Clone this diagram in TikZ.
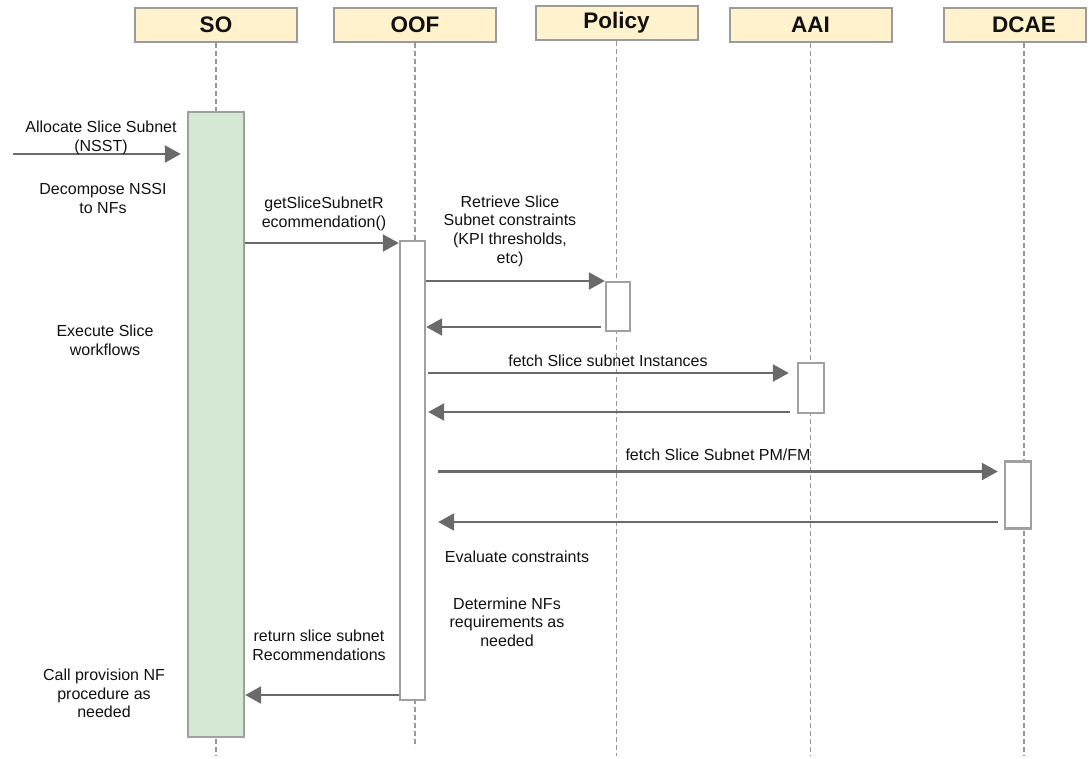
\documentclass[tikz,border=0pt]{standalone}
\usepackage{fontspec}
\setmainfont{Liberation Sans}
\usetikzlibrary{arrows.meta}
\definecolor{hdrfill}{HTML}{FFF2CC}
\definecolor{hdrline}{HTML}{9A9A9A}
\definecolor{boxline}{HTML}{A0A0A0}
\definecolor{lifeline}{HTML}{999999}
\definecolor{msgline}{HTML}{6A6A6A}
\definecolor{actgreen}{HTML}{D5E8D4}
\definecolor{txt}{HTML}{111111}
\begin{document}
\begin{tikzpicture}[x=1pt,y=-1pt,
  hdr/.style={draw=hdrline, line width=2pt, fill=hdrfill, minimum width=162pt,
    minimum height=34pt, inner sep=0pt, text=txt,
    font=\fontsize{22.5}{26}\selectfont\bfseries},
  hdrtext/.style={inner sep=0pt, text=txt, font=\fontsize{22.5}{26}\selectfont\bfseries},
  life/.style={draw=lifeline, line width=1.5pt, dash pattern=on 5pt off 3pt},
  act/.style={draw=boxline, line width=2.4pt, fill=white, inner sep=0pt},
  msg/.style={draw=msgline, line width=2.4pt, -{Triangle[length=16pt,width=17pt]}},
  lbl/.style={inner sep=0pt, align=center, text=txt,
    font=\fontsize{16}{18.6}\selectfont}
]
\useasboundingbox (0,0) rectangle (1089,758);

% participant headers
\node[hdr] (hSO) at (216,25) {SO};
\node[hdr] (hOOF) at (415,25) {OOF};
\node[hdr] (hPol) at (616.5,22.5) {Policy};
\node[hdr] (hAAI) at (810.5,25) {AAI};
\node[hdr, minimum width=142pt] (hDCAE) at (1015,25) {};
\node[hdrtext] (tDCAE) at (1024,25) {DCAE};

% lifelines
\coordinate (bottom) at (0,756);
\coordinate (bottomOOF) at (0,747);
\draw[life] (hSO.south) -- (hSO.south |- bottom);
\draw[life] (hOOF.south) -- (hOOF.south |- bottomOOF);
\draw[life] (hPol.south) -- (hPol.south |- bottom);
\draw[life] (hAAI.south) -- (hAAI.south |- bottom);
\draw[life] (tDCAE.south |- hDCAE.south) -- (tDCAE.south |- bottom);

% activation bars
\node[act, fill=actgreen, minimum width=56pt, minimum height=625pt] (aSO) at (216,424.5) {};
\node[act, minimum width=25pt, minimum height=459pt] (aOOF) at (412.5,470.5) {};
\node[act, minimum width=24pt, minimum height=49pt] (aPol) at (618,306.5) {};
\node[act, minimum width=26pt, minimum height=50pt] (aAAI) at (811,388) {};
\node[act, minimum width=26pt, minimum height=67pt] (aDCAE) at (1018,495) {};

% message levels
\coordinate (inStart) at (13,154);
\coordinate (m2) at (0,243);
\coordinate (m3) at (0,281);
\coordinate (m4) at (0,327);
\coordinate (m5) at (0,373);
\coordinate (m6) at (0,412);
\coordinate (m7) at (0,471.5);
\coordinate (m8) at (0,522);
\coordinate (m9) at (0,695);

% messages
\draw[msg] (inStart) -- ([xshift=-6pt]aSO.west |- inStart);
\draw[msg] (aSO.east |- m2) -- (aOOF.west |- m2);
\draw[msg] (aOOF.east |- m3) -- (aPol.west |- m3);
\draw[msg] ([xshift=-4pt]aPol.west |- m4) -- (aOOF.east |- m4);
\draw[msg] ([xshift=2pt]aOOF.east |- m5) -- ([xshift=-8pt]aAAI.west |- m5);
\draw[msg] ([xshift=-7pt]aAAI.west |- m6) -- ([xshift=2pt]aOOF.east |- m6);
\draw[msg] ([xshift=12pt]aOOF.east |- m7) -- ([xshift=-6pt]aDCAE.west |- m7);
\draw[msg] ([xshift=-6pt]aDCAE.west |- m8) -- ([xshift=12pt]aOOF.east |- m8);
\draw[msg] (aOOF.west |- m9) -- (aSO.east |- m9);

% labels
\node[lbl] (lAlloc) at (101,138) {Allocate Slice Subnet\\(NSST)};
\node[lbl] (lDecomp) at (103,198.5) {Decompose NSSI\\to NFs};
\node[lbl] (lExec) at (105,340) {Execute Slice\\workflows};
\node[lbl] (lCall) at (104,693.5) {Call provision NF\\procedure as\\needed};
\node[lbl] (lGet) at (324,214) {getSliceSubnetR\\ecommendation()};
\node[lbl] (lRetr) at (510,231) {Retrieve Slice\\Subnet constraints\\(KPI thresholds,\\etc)};
\node[lbl] (lInst) at (608,361) {fetch Slice subnet Instances};
\node[lbl] (lPM) at (718,455) {fetch Slice Subnet PM/FM};
\node[lbl] (lEval) at (517,557) {Evaluate constraints};
\node[lbl] (lDet) at (507,622) {Determine NFs\\requirements as\\needed};
\node[lbl] (lRet) at (319,645) {return slice subnet\\Recommendations};
\end{tikzpicture}
\end{document}
